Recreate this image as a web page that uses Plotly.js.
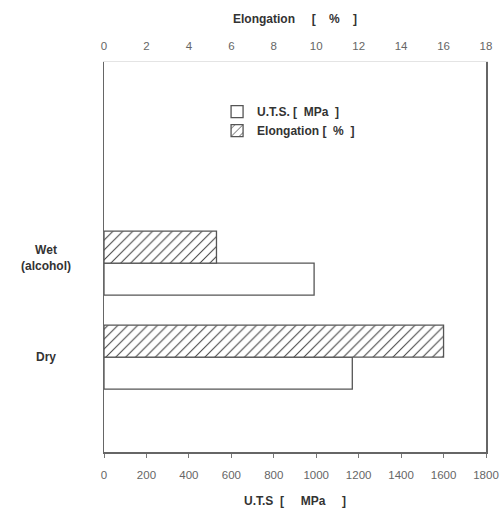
<!DOCTYPE html>
<html>
<head>
<meta charset="utf-8">
<script src="https://cdn.plot.ly/plotly-3.0.1.min.js"></script>
<style>html,body{margin:0;padding:0;background:#fff;}#chart{width:503px;height:510px;}</style>
</head>
<body>
<div id="chart"></div>
<script>
// Data
var categories = ['Dry', 'Wet<br>(alcohol)'];
var catPos = [0, 1];
var utsValues = [1170, 990];      // MPa
var elongValues = [16, 5.3];      // %
var utsTicks = [0, 200, 400, 600, 800, 1000, 1200, 1400, 1600, 1800];
var elongTicks = [0, 2, 4, 6, 8, 10, 12, 14, 16, 18];

var FONT = 'Liberation Sans, Arial, sans-serif';
var barW = 0.34;

var traceUTS = {
  type: 'bar', orientation: 'h',
  name: '<b>U.T.S. [  MPa  ]</b>',
  y: catPos, x: utsValues,
  width: barW, offset: -barW,
  xaxis: 'x', yaxis: 'y',
  marker: {color: '#ffffff', line: {color: '#555555', width: 1.3}},
  hoverinfo: 'x'
};
var traceEl = {
  type: 'bar', orientation: 'h',
  name: '<b>Elongation [  %  ]</b>',
  y: catPos, x: elongValues,
  width: barW, offset: 0,
  xaxis: 'x2', yaxis: 'y',
  marker: {color: '#ffffff', line: {color: '#555555', width: 1.3},
           pattern: {shape: '/', fgcolor: '#444444', bgcolor: '#ffffff', size: 7, solidity: 0.15}},
  hoverinfo: 'x'
};

// y category labels drawn centred, as in the reference
var catLabelY = [0, 1.05];
var annotations = categories.map(function(c, i) {
  return {xref: 'paper', yref: 'y', x: -0.152, y: catLabelY[i], xanchor: 'center', yanchor: 'middle',
          text: '<b>' + c + '</b>', showarrow: false, align: 'center',
          font: {family: FONT, size: 12, color: '#333333'}};
});

var layout = {
  width: 503, height: 510,
  margin: {l: 104, r: 17, t: 62, b: 58},
  paper_bgcolor: '#ffffff', plot_bgcolor: '#ffffff',
  font: {family: FONT, size: 11, color: '#555555'},
  showlegend: true,
  legend: {x: 0.296, y: 0.91, xanchor: 'left', yanchor: 'top',
           bgcolor: 'rgba(0,0,0,0)', font: {family: FONT, size: 12, color: '#333333'},
           traceorder: 'normal', tracegroupgap: 2},
  annotations: annotations,
  xaxis: {
    range: [0, 1800], tickvals: utsTicks, ticktext: utsTicks.map(String),
    showgrid: false, zeroline: false,
    showline: true, linecolor: '#666666', linewidth: 1.5,
    ticks: 'outside', ticklen: 4, tickcolor: '#777777', ticklabelstandoff: 8,
    tickfont: {family: FONT, size: 11.5, color: '#666666'},
    title: {text: '<b>U.T.S  [     MPa     ]</b>', font: {family: FONT, size: 12, color: '#333333'}, standoff: 16}
  },
  xaxis2: {
    overlaying: 'x', side: 'top', anchor: 'y',
    range: [0, 18], tickvals: elongTicks, ticktext: elongTicks.map(String),
    showgrid: false, zeroline: false,
    showline: true, linecolor: '#e4e4e4', linewidth: 1,
    ticks: '', ticklabelstandoff: 6,
    tickfont: {family: FONT, size: 11.5, color: '#666666'},
    title: {text: '<b>Elongation     [    %    ]</b>', font: {family: FONT, size: 12, color: '#333333'}, standoff: 14}
  },
  yaxis: {
    range: [-1.01, 3.14],
    tickvals: catPos, ticktext: ['', ''],
    showgrid: false, zeroline: false,
    showline: true, mirror: true, linecolor: '#666666', linewidth: 1.5,
    ticks: ''
  }
};

Plotly.newPlot('chart', [traceUTS, traceEl], layout, {displayModeBar: false, staticPlot: true});
</script>
</body>
</html>
